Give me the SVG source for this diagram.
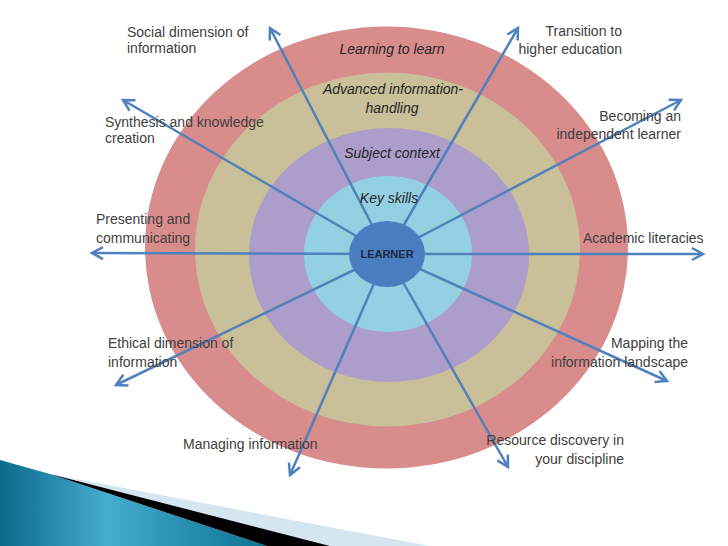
<svg xmlns="http://www.w3.org/2000/svg" width="728" height="546" viewBox="0 0 728 546">
<defs>
<style>
.lbl{font-family:"Liberation Sans",Arial,sans-serif;font-size:14px;fill:#404040}
.ring{font-family:"Liberation Sans",Arial,sans-serif;font-size:14px;font-style:italic;fill:#262626;text-anchor:middle}
.end{text-anchor:end}
.con line{stroke:#4f81bd;stroke-width:2.5;fill:none;marker-end:url(#ah)}
</style>
<marker id="ah" markerUnits="userSpaceOnUse" markerWidth="16" markerHeight="16" viewBox="-13 -8 16 16" refX="0" refY="0" orient="auto">
<path d="M-11,-6 L0,0 L-11,6" fill="none" stroke="#4f81bd" stroke-width="2.5" stroke-linejoin="miter"/>
</marker>
<linearGradient id="teal" x1="0" y1="0" x2="1" y2="0">
<stop offset="0" stop-color="#0a6a8a"/>
<stop offset="0.4" stop-color="#46acd0"/>
<stop offset="1" stop-color="#0b7292"/>
</linearGradient>
</defs>
<rect width="728" height="546" fill="#ffffff"/>
<g id="decoration">
<polygon points="50,474 430,546 330,546" fill="#d4e7f0"/>
<polygon points="0,460 50,474 267,546 0,546" fill="url(#teal)"/>
<polygon points="50,474 330,546 267,546" fill="#000000"/>
</g>
<g id="ring-learning-to-learn"><ellipse cx="386.5" cy="247.5" rx="241.5" ry="221" fill="#d98c8c"/></g>
<g id="ring-advanced"><ellipse cx="387.5" cy="249.5" rx="192.5" ry="177" fill="#c9bf98"/></g>
<g id="ring-subject"><ellipse cx="389" cy="255" rx="140" ry="127" fill="#ac9dca"/></g>
<g id="ring-key-skills"><ellipse cx="388" cy="254" rx="84" ry="78" fill="#93d0e1"/></g>
<g class="con" id="connectors">
<line x1="387" y1="254" x2="270" y2="28"/>
<line x1="387" y1="254" x2="518" y2="28"/>
<line x1="387" y1="254" x2="681" y2="100"/>
<line x1="387" y1="254" x2="123" y2="100"/>
<line x1="387" y1="254" x2="92" y2="253"/>
<line x1="387" y1="254" x2="703" y2="254"/>
<line x1="387" y1="254" x2="116" y2="385"/>
<line x1="387" y1="254" x2="290" y2="475"/>
<line x1="387" y1="254" x2="667" y2="381"/>
<line x1="387" y1="254" x2="508" y2="467"/>
</g>
<g id="learner">
<ellipse cx="387" cy="254" rx="38" ry="33" fill="#4a7ec0"/>
<text x="387" y="258" font-family="Liberation Sans,Arial,sans-serif" font-size="11" font-weight="bold" fill="#1c2a44" text-anchor="middle">LEARNER</text>
</g>
<g id="ring-labels">
<text class="ring" x="392" y="54">Learning to learn</text>
<text class="ring" x="393" y="94">Advanced information-</text>
<text class="ring" x="392" y="113">handling</text>
<text class="ring" x="392" y="158">Subject context</text>
<text class="ring" x="389" y="203">Key skills</text>
</g>
<g id="social"><text class="lbl" x="127" y="37">Social dimension of</text><text class="lbl" x="127" y="53">information</text></g>
<g id="transition"><text class="lbl end" x="622" y="36">Transition to</text><text class="lbl end" x="622" y="54">higher education</text></g>
<g id="becoming"><text class="lbl end" x="681" y="121">Becoming an</text><text class="lbl end" x="681" y="139">independent learner</text></g>
<g id="synthesis"><text class="lbl" x="105" y="127">Synthesis and knowledge</text><text class="lbl" x="105" y="143">creation</text></g>
<g id="presenting"><text class="lbl" x="96" y="224">Presenting and</text><text class="lbl" x="96" y="243">communicating</text></g>
<g id="academic"><text class="lbl" x="583" y="243">Academic literacies</text></g>
<g id="ethical"><text class="lbl" x="108" y="348">Ethical dimension of</text><text class="lbl" x="108" y="367">information</text></g>
<g id="managing"><text class="lbl" x="183" y="449">Managing information</text></g>
<g id="mapping"><text class="lbl end" x="688" y="348">Mapping the</text><text class="lbl end" x="688" y="367">information landscape</text></g>
<g id="resource"><text class="lbl end" x="624" y="445">Resource discovery in</text><text class="lbl end" x="624" y="464">your discipline</text></g>
</svg>
